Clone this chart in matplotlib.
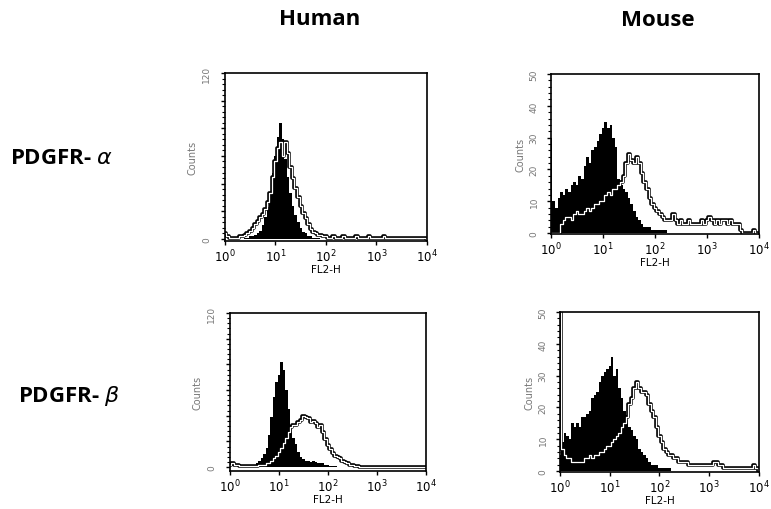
import numpy as np
import matplotlib
matplotlib.use("Agg")
import matplotlib.pyplot as plt
import matplotlib.patheffects as pe
from matplotlib.ticker import MultipleLocator, LogLocator, NullFormatter

# FL2-H channels, in decades (10^0 .. 10^4), 0.05 decade bins
channels = np.linspace(0, 4, 81)

# Human PDGFR-alpha
human_a_ctrl = [0, 0, 0, 0, 0, 0, 0, 0, 1, 1, 2, 2, 3, 4, 6, 10, 16, 23, 34, 48,
                60, 74, 84, 72, 58, 45, 33, 24, 17, 12, 8, 5, 4, 2, 2, 1, 1, 1, 0, 0,
                0, 0, 0, 0, 0, 0, 0, 0, 0, 0, 0, 0, 0, 0, 0, 0, 0, 0, 0, 0,
                0, 0, 0, 0, 0, 0, 0, 0, 0, 0, 0, 0, 0, 0, 0, 0, 0, 0, 0, 0,
                0]
human_a_stain = [4, 2, 1, 1, 1, 1, 2, 2, 3, 4, 6, 8, 11, 13, 16, 18, 22, 27, 33, 45,
                 56, 66, 70, 60, 70, 62, 52, 44, 37, 30, 24, 19, 15, 11, 7, 5, 4, 3, 3, 2,
                 2, 1, 1, 2, 1, 1, 1, 2, 1, 1, 1, 1, 2, 1, 1, 1, 1, 2, 1, 1,
                 1, 1, 1, 2, 1, 1, 1, 1, 1, 1, 1, 1, 1, 1, 1, 1, 1, 1, 1, 1,
                 0]

# Mouse PDGFR-alpha
mouse_a_ctrl = [30, 10, 8, 11, 13, 12, 14, 13, 15, 16, 15, 18, 17, 21, 24, 22, 26, 27, 29, 31,
                33, 35, 33, 34, 30, 27, 17, 15, 14, 13, 11, 9, 7, 5, 4, 3, 2, 2, 2, 1,
                1, 1, 1, 1, 1, 0, 0, 0, 0, 0, 0, 0, 0, 0, 0, 0, 0, 0, 0, 0,
                0, 0, 0, 0, 0, 0, 0, 0, 0, 0, 0, 0, 0, 0, 0, 0, 0, 0, 0, 0,
                0]
mouse_a_stain = [0, 0, 0, 0, 3, 4, 5, 5, 4, 6, 7, 6, 6, 7, 8, 7, 8, 9, 9, 10,
                 10, 12, 13, 12, 14, 14, 15, 16, 18, 22, 25, 23, 22, 24, 22, 19, 16, 14, 11, 9,
                 8, 7, 6, 5, 4, 4, 4, 6, 4, 3, 4, 3, 3, 4, 3, 3, 3, 3, 4, 3,
                 4, 5, 4, 3, 4, 3, 4, 4, 3, 4, 3, 3, 3, 1, 0, 0, 0, 0, 1, 0,
                 0]

# Human PDGFR-beta
human_b_ctrl = [0, 0, 0, 0, 0, 0, 0, 0, 1, 2, 2, 3, 5, 7, 10, 15, 25, 39, 55, 66,
                72, 82, 76, 60, 45, 30, 23, 18, 12, 8, 6, 5, 5, 4, 5, 4, 3, 3, 3, 2,
                2, 1, 1, 1, 0, 0, 0, 0, 0, 0, 0, 0, 0, 0, 0, 0, 0, 0, 0, 0,
                0, 0, 0, 0, 0, 0, 0, 0, 0, 0, 0, 0, 0, 0, 0, 0, 0, 0, 0, 0,
                0]
human_b_stain = [2, 3, 2, 2, 1, 1, 1, 1, 1, 1, 1, 1, 2, 2, 2, 3, 3, 5, 7, 9,
                 12, 15, 19, 23, 27, 31, 33, 33, 35, 37, 40, 39, 38, 35, 36, 34, 31, 33, 27, 22,
                 17, 14, 11, 9, 8, 7, 5, 4, 3, 2, 2, 1, 1, 0, 0, 0, 0, 0, 0, 0,
                 0, 0, 0, 0, 0, 0, 0, 0, 0, 0, 0, 0, 0, 0, 0, 0, 0, 0, 0, 0,
                 0]

# Mouse PDGFR-beta
mouse_b_ctrl = [5, 9, 12, 11, 10, 15, 14, 15, 14, 17, 17, 18, 19, 23, 24, 25, 28, 30, 31, 32,
                33, 36, 30, 32, 26, 23, 19, 16, 14, 13, 11, 10, 7, 6, 5, 4, 3, 2, 2, 2,
                1, 1, 1, 1, 1, 0, 0, 0, 0, 0, 0, 0, 0, 0, 0, 0, 0, 0, 0, 0,
                0, 0, 0, 0, 0, 0, 0, 0, 0, 0, 0, 0, 0, 0, 0, 0, 0, 0, 0, 0,
                0]
mouse_b_stain = [55, 7, 5, 4, 4, 3, 3, 3, 3, 3, 4, 4, 5, 4, 5, 5, 6, 6, 7, 8,
                 8, 9, 10, 11, 12, 14, 15, 17, 21, 23, 26, 28, 26, 25, 25, 24, 21, 19, 17, 14,
                 11, 9, 7, 6, 5, 5, 4, 4, 3, 3, 3, 3, 2, 2, 2, 2, 2, 2, 2, 2,
                 2, 2, 3, 3, 2, 2, 1, 1, 1, 1, 1, 1, 1, 1, 1, 1, 1, 1, 2, 1,
                 0]

col_titles = ["Human", "Mouse"]
row_titles = ["PDGFR- $\\alpha$", "PDGFR- $\\beta$"]
decade_labels = ["$10^{0}$", "$10^{1}$", "$10^{2}$", "$10^{3}$", "$10^{4}$"]

fig = plt.figure(figsize=(7.71, 5.10), dpi=100)

panels = [
    ([0.2918, 0.5255, 0.2620, 0.3294], human_a_ctrl, human_a_stain, 120, (-1.5, 120)),
    ([0.7147, 0.5392, 0.2698, 0.3137], mouse_a_ctrl, mouse_a_stain, 50, (-0.3, 50)),
    ([0.2983, 0.0745, 0.2542, 0.3098], human_b_ctrl, human_b_stain, 120, (-3, 120)),
    ([0.7263, 0.0725, 0.2581, 0.3137], mouse_b_ctrl, mouse_b_stain, 50, (-0.3, 50)),
]

x = 10 ** channels
for rect, ctrl, stain, ymax, ylim in panels:
    ax = fig.add_axes(rect)
    ax.fill_between(x, ctrl, step="mid", color="black", lw=0)
    ax.step(x, stain, where="mid", color="white", lw=0.9,
            path_effects=[pe.Stroke(linewidth=2.6, foreground="black"), pe.Normal()])
    ax.set_xscale("log")
    ax.set_xlim(1, 1e4)
    ax.set_ylim(*ylim)
    ax.set_xticks([1, 10, 100, 1000, 10000])
    ax.set_xticklabels(decade_labels, fontsize=8.5)
    ax.xaxis.set_minor_locator(LogLocator(base=10, subs=np.arange(2, 10)))
    ax.xaxis.set_minor_formatter(NullFormatter())
    if ymax == 120:
        ax.set_yticks(range(0, 121, 20))
        ax.set_yticklabels(["0", "", "", "", "", "", "120"])
        ax.yaxis.set_minor_locator(MultipleLocator(4))
        ypad = 7
    else:
        ax.set_yticks(range(0, 51, 10))
        ax.set_yticklabels([str(v) for v in range(0, 51, 10)])
        ax.yaxis.set_minor_locator(MultipleLocator(2))
        ypad = 6
    ax.tick_params(axis="y", labelrotation=90, labelsize=6.5, labelcolor="#777",
                   length=3, width=1, pad=ypad)
    ax.tick_params(axis="y", which="minor", length=2, width=0.8)
    ax.tick_params(axis="x", length=3, width=1, pad=1.5)
    ax.tick_params(axis="x", which="minor", length=2, width=0.8)
    for lab in ax.get_yticklabels():
        lab.set_va("center")
    ax.set_xlabel("FL2-H", fontsize=7.5, labelpad=0)
    ax.set_ylabel("Counts", fontsize=7, color="#777", labelpad=3)
    for s in ax.spines.values():
        s.set_linewidth(1.2)

fig.text(0.415, 0.961, col_titles[0], fontsize=16, fontweight="bold",
         family="Open Sans", ha="center", va="center")
fig.text(0.853, 0.959, col_titles[1], fontsize=16, fontweight="bold",
         family="Open Sans", ha="center", va="center")
fig.text(0.013, 0.690, row_titles[0], fontsize=16, fontweight="bold",
         family="Open Sans", ha="left", va="center")
fig.text(0.023, 0.2235, row_titles[1], fontsize=16, fontweight="bold",
         family="Open Sans", ha="left", va="center")

fig.savefig("out.png", dpi=100)
